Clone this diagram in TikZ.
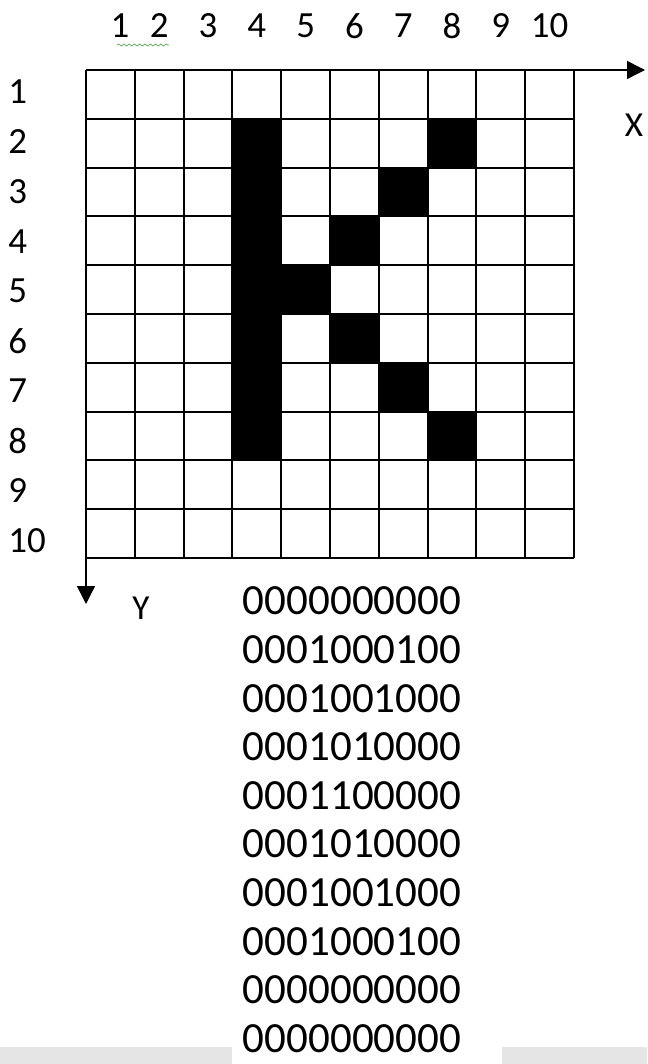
\documentclass[tikz,border=0pt]{standalone}
\usepackage{fontspec}
\setmainfont{Carlito}
\usetikzlibrary{arrows.meta,decorations.pathmorphing}
\begin{document}
\begin{tikzpicture}[x=0.02cm,y=-0.02cm,line join=round,>={Triangle[length=.36cm,width=.36cm]}]
    \definecolor{paneGray}{rgb}{0.9,0.9,0.9}
    \definecolor{wavyGreen}{rgb}{0.35,0.65,0.35}
    \tikzset{
        gridline/.style={black,line width=1.1pt},
        axis/.style={->,black,line width=.8pt},
        lbl/.style={font=\fontsize{21}{25}\selectfont,inner sep=0pt},
        axlbl/.style={font=\fontsize{20}{24}\selectfont,inner sep=0pt},
        bits/.style={font=\fontsize{24.5}{28}\selectfont,inner sep=0pt}
    }
    \useasboundingbox (0,0) rectangle (647,1064);
    \def\cs{48.8}
    \coordinate (O) at (86,70);
    \coordinate (R) at (574,70);
    \coordinate (B) at (86,558);
    \coordinate (xend) at (645,70);
    \coordinate (yend) at (86,604);
    %=============================== black cells
    \foreach \c/\r in {4/2,4/3,4/4,4/5,4/6,4/7,4/8,8/2,7/3,6/4,5/5,6/6,7/7,8/8}
        \fill (O) ++({(\c-1)*\cs},{(\r-1)*\cs}) rectangle ++(\cs,\cs);
    %=============================== grid
    \foreach \i in {0,...,10}{
        \draw[gridline] (O) ++({\i*\cs},0) -- ++(0,{10*\cs});
        \draw[gridline] (O) ++(0,{\i*\cs}) -- ++({10*\cs},0);
    }
    %=============================== axes
    \draw[axis] (R) -- (xend);
    \draw[axis] (B) -- (yend);
    \node[axlbl] (xlbl) at (634,125) {X};
    \node[axlbl] (ylbl) at (141,608) {Y};
    %=============================== numbers
    \node[lbl] (col1) at (120,26) {1};
    \foreach \i in {2,...,10}
        \node[lbl] (col\i) at ({86+(\i-0.5)*\cs},26) {\i};
    \draw[wavyGreen,line width=.4pt,decorate,decoration={snake,amplitude=.6pt,segment length=3pt}] (117,45) -- (169,45);
    \foreach \i in {1,...,10}
        \node[lbl,anchor=west] (row\i) at (8,{92+(\i-1)*49.8}) {\i};
    %=============================== bit rows
    \foreach \b [count=\k] in {0000000000,0001000100,0001001000,0001010000,0001100000,0001010000,0001001000,0001000100,0000000000,0000000000}
        \node[bits] (bits\k) at (352,{601+(\k-1)*48.6}) {\b};
    %=============================== bottom bars
    \fill[paneGray] (0,1047) rectangle (232,1064);
    \fill[paneGray] (502,1047) rectangle (647,1064);
\end{tikzpicture}
\end{document}
